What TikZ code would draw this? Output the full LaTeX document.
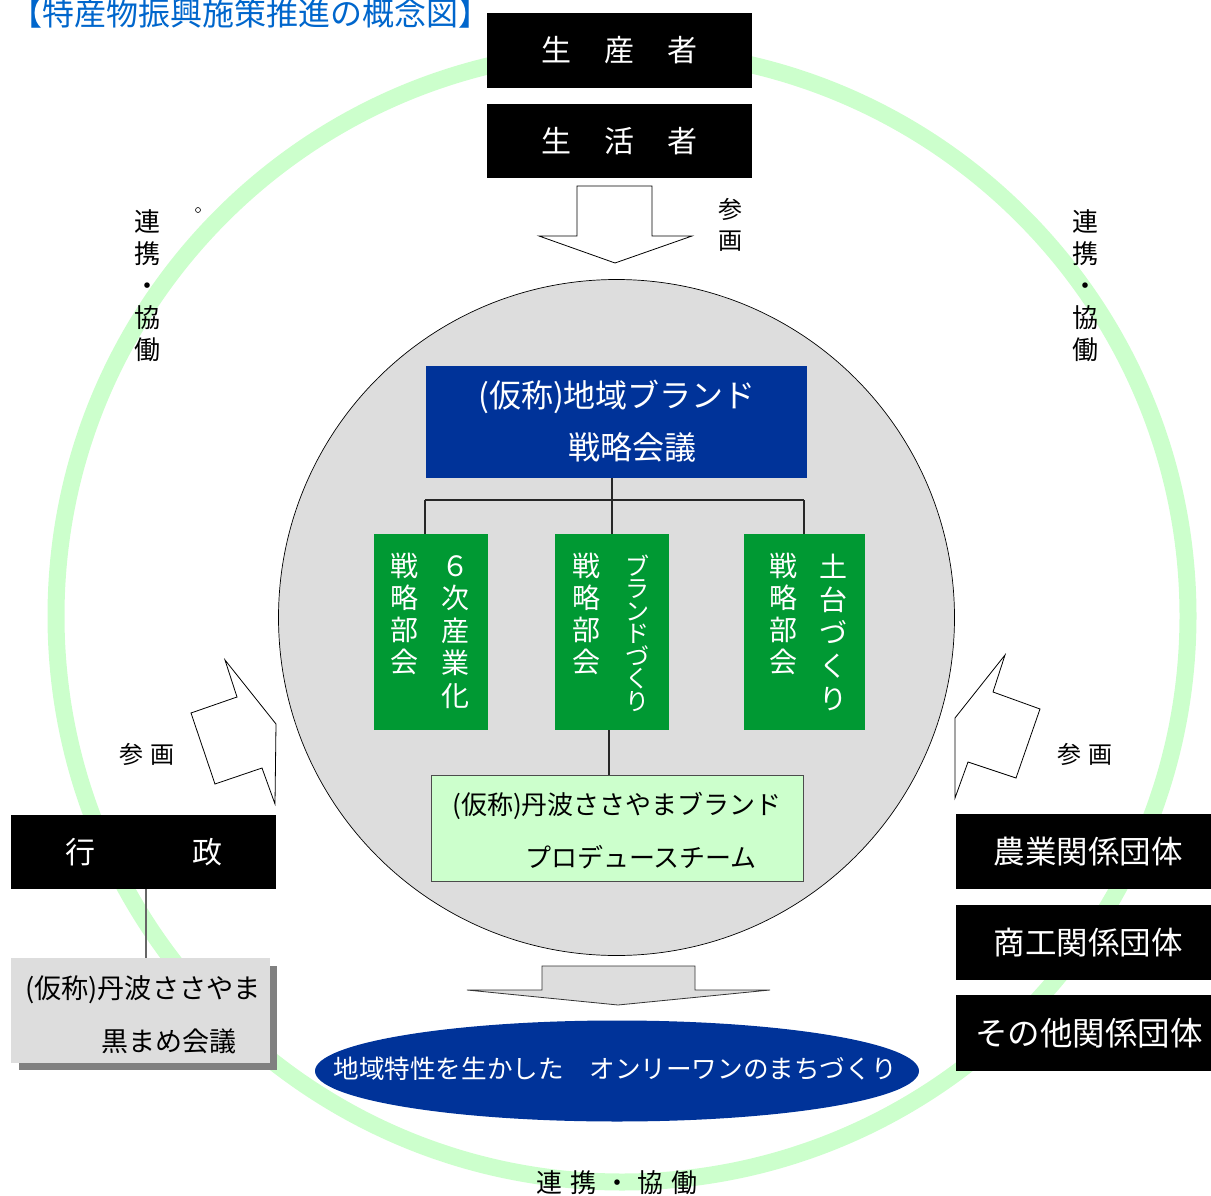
\documentclass[tikz,border=0pt]{standalone}
\usepackage{fontspec}
\setmainfont{Noto Sans CJK JP}
\usetikzlibrary{shapes.geometric}
\definecolor{ringgreen}{RGB}{204,255,204}
\definecolor{navy}{RGB}{0,51,153}
\definecolor{leaf}{RGB}{0,153,51}
\definecolor{palegray}{RGB}{221,221,221}
\definecolor{ptgreen}{RGB}{204,255,204}
\definecolor{titleblue}{RGB}{0,102,204}
\definecolor{shadowgray}{RGB}{128,128,128}
\newcommand\myfs[2]{\fontsize{#1}{#2}\selectfont}
\tikzset{
  blackbox/.style={fill=black, inner sep=0, text=white, font=\myfs{30}{34}},
  greenbox/.style={fill=leaf, inner sep=0, minimum height=196pt},
  wtext/.style={text=white, inner sep=0, align=center},
  btext/.style={text=black, inner sep=0, align=center},
  treeline/.style={draw=black!85, line width=1.2pt},
  fatarrow/.style={draw=black, line width=0.8pt, line join=miter},
}
\begin{document}
\begin{tikzpicture}[x=1pt,y=-1pt]
\useasboundingbox (0,0) rectangle (1211,1196);
% outer ring
\draw[ringgreen, line width=17pt] (622,616) circle[radius=566pt];
% central gray circle
\draw[fill=palegray, draw=black, line width=0.7pt] (616.5,617.5) circle[radius=338pt];

% title
\node[text=titleblue, font=\myfs{32}{34}, anchor=west, inner sep=0] (title) at (10,13) {【特産物振興施策推進の概念図】};

% top boxes
\node[blackbox, minimum width=265pt, minimum height=75pt] (prod) at (619.5,50.5) {生\hspace{1.1em}産\hspace{1.1em}者};
\node[blackbox, minimum width=265pt, minimum height=74pt] (life) at (619.5,141) {生\hspace{1.1em}活\hspace{1.1em}者};

% top down arrow
\draw[fatarrow, fill=white] (577,186) -- (652,186) -- (652,236) -- (692,236) -- (615,263) -- (539,236) -- (577,236) -- cycle;
\node[btext, font=\myfs{24}{31}] (sankakuT) at (730,225) {参\\画};

% small mark
\node[circle, draw=black, line width=0.6pt, inner sep=0, minimum size=5pt] (dot) at (198,210) {};

% side labels
\node[btext, font=\myfs{26}{32}] (renL) at (147,286) {連\\携\\・\\協\\働};
\node[btext, font=\myfs{26}{32}] (renR) at (1085,286) {連\\携\\・\\協\\働};

% blue strategy box
\node[fill=navy, minimum width=381pt, minimum height=112pt, inner sep=0] (brand) at (616.5,422) {};
\node[wtext, font=\myfs{32}{34}] (brandA) at (617,397) {(仮称)地域ブランド};
\node[wtext, font=\myfs{32}{34}] (brandB) at (632,447) {戦略会議};

% green boxes
\node[greenbox, minimum width=114pt] (g1) at (431,632) {};
\node[greenbox, minimum width=114pt] (g2) at (612,632) {};
\node[greenbox, minimum width=121pt] (g3) at (804.5,632) {};
\node[wtext, font=\myfs{28}{32.5}] (g1a) at (455,632) {６\\次\\産\\業\\化};
\node[wtext, font=\myfs{28}{32}] (g1b) at (404,614) {戦\\略\\部\\会};
\node[wtext, font=\myfs{24}{22.5}] (g2a) at (637,633) {ブ\\ラ\\ン\\ド\\づ\\く\\り};
\node[wtext, font=\myfs{28}{32}] (g2b) at (586,614) {戦\\略\\部\\会};
\node[wtext, font=\myfs{28}{33}] (g3a) at (833,632) {土\\台\\づ\\く\\り};
\node[wtext, font=\myfs{28}{32}] (g3b) at (783,614) {戦\\略\\部\\会};

% tree connectors
\coordinate (jc) at (612,500);
\coordinate (jl) at (425,500);
\coordinate (jr) at (804,500);
\draw[treeline] (brand.south -| jc) -- (jc);
\draw[treeline] (jl) -- (jr);
\draw[treeline] (jl) -- (g1.north -| jl);
\draw[treeline] (jc) -- (g2.north -| jc);
\draw[treeline] (jr) -- (g3.north -| jr);

% PT box
\node[fill=ptgreen, draw=black!70, line width=0.8pt, minimum width=372pt, minimum height=106pt, inner sep=0] (pt) at (617,828) {};
\node[btext, font=\myfs{26}{30}] (ptA) at (617,806) {(仮称)丹波ささやまブランド};
\node[btext, font=\myfs{26}{30}] (ptB) at (641,857) {プロデュースチーム};
\draw[treeline] (g2.south -| 609,0) -- (pt.north -| 609,0);

% bottom arrow
\draw[draw=black!80, line width=0.8pt, fill=palegray] (542,966) -- (695,966) -- (695,990) -- (770,990) -- (618,1005) -- (467,990) -- (542,990) -- cycle;

% ellipse
\node[ellipse, fill=navy, minimum width=604pt, minimum height=101pt, inner sep=0] (goal) at (617,1071) {};
\node[wtext, font=\myfs{25.6}{30}] (goalT) at (615,1069) {地域特性を生かした\hspace{1em}オンリーワンのまちづくり};

% bottom label
\node[btext, font=\myfs{26}{30}] (renB) at (617,1183) {連\hspace{0.3em}携\hspace{0.3em}・\hspace{0.3em}協\hspace{0.3em}働};

% left arrow
\draw[fatarrow, fill=white] (225,660) -- (237,697) -- (191,713) -- (215,784) -- (262,768) -- (275,804) -- (276,724) -- cycle;
\node[btext, font=\myfs{24}{30}] (sankakuL) at (147,754) {参\hspace{0.3em}画};
% right arrow
\draw[fatarrow, fill=white] (1005,655) -- (993,692) -- (1040,709) -- (1016,778) -- (968,762) -- (955,798) -- (955,718) -- cycle;
\node[btext, font=\myfs{24}{30}] (sankakuR) at (1085,754) {参\hspace{0.3em}画};

% administration
\node[blackbox, minimum width=265pt, minimum height=74pt] (gov) at (143.5,852) {};
\node[wtext, font=\myfs{30}{34}] (govA) at (80,852) {行};
\node[wtext, font=\myfs{30}{34}] (govB) at (207,852) {政};
\node[fill=palegray, minimum width=259pt, minimum height=105pt, inner sep=0] (kuro) at (140.5,1010.5) {};
\fill[shadowgray] (kuro.north east) ++(0,8) rectangle ++(7,97);
\fill[shadowgray] (kuro.south west) ++(8,0) rectangle ++(258,7);
\node[btext, font=\myfs{27.2}{32}] (kuroA) at (143,990) {(仮称)丹波ささやま};
\node[btext, font=\myfs{27}{32}] (kuroB) at (169,1041) {黒まめ会議};
\draw[draw=black!60, line width=1.2pt] (gov.south -| 146,0) -- (kuro.north -| 146,0);

% right organisations
\node[blackbox, minimum width=255pt, minimum height=75pt] (agri) at (1083.5,851.5) {};
\node[blackbox, minimum width=255pt, minimum height=75pt] (comm) at (1083.5,942.5) {};
\node[blackbox, minimum width=255pt, minimum height=76pt] (other) at (1083.5,1033) {};
\node[wtext, font=\myfs{31.5}{34}] (agriT) at (1088,852) {農業関係団体};
\node[wtext, font=\myfs{31.5}{34}] (commT) at (1088,943) {商工関係団体};
\node[wtext, font=\myfs{32.5}{34}] (otherT) at (1089,1033) {その他関係団体};
\end{tikzpicture}
\end{document}
